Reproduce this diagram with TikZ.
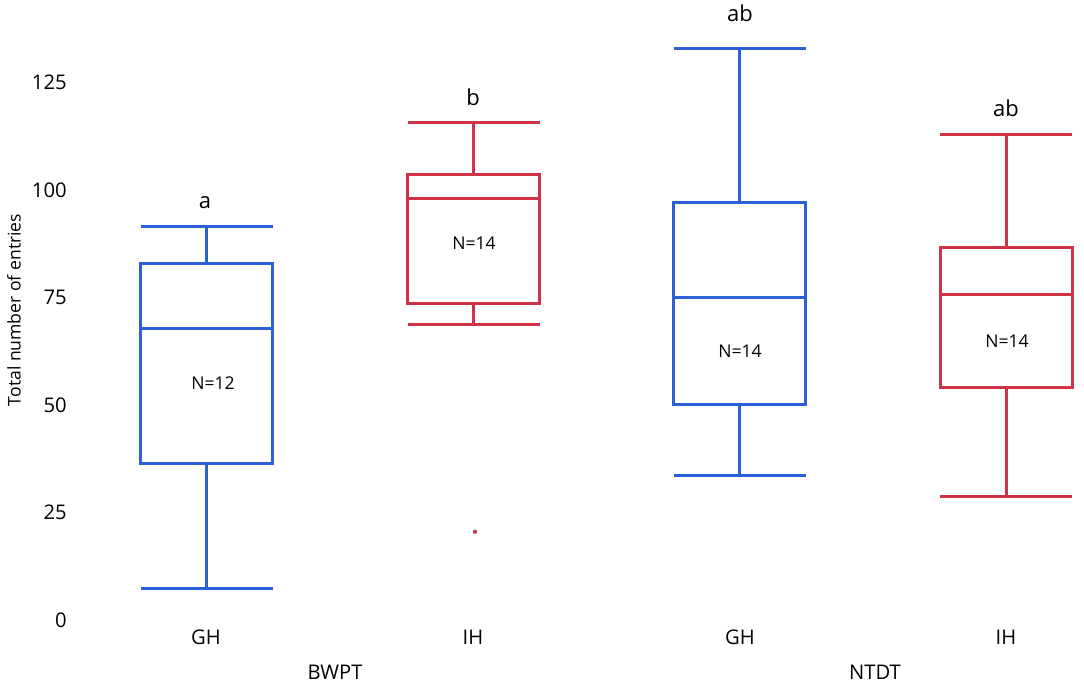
\documentclass[tikz,border=0pt]{standalone}
\usepackage{fontspec}
\setmainfont{Open Sans}
\definecolor{gblue}{RGB}{45,95,215}
\definecolor{ired}{RGB}{208,50,72}
\begin{document}
\begin{tikzpicture}[x=0.02cm, y=0.086cm,
        bx/.style={line width=1.7pt},
        ticklab/.style={font=\fontsize{11.5}{12}\selectfont, anchor=east, inner sep=0pt},
        grouplab/.style={font=\fontsize{11.5}{12}\selectfont, inner sep=0pt},
        letter/.style={font=\fontsize{12.5}{13}\selectfont, inner sep=0pt},
        nlab/.style={font=\fontsize{10}{11}\selectfont, inner sep=0pt}]
    \useasboundingbox (0, -15.12) rectangle (1084, 144.19);

    % y axis
    \foreach \v in {0, 25, 50, 75, 100, 125} {
        \node[ticklab] (tick\v) at (67, \v) {\v};
    }
    \node[rotate=90, font=\fontsize{10}{11}\selectfont, inner sep=0pt] (ylab) at (14, 72.1) {Total number of entries};

    % boxes: center, lower whisker, q1, median, q3, upper whisker, colour
    \foreach \c/\lo/\qa/\md/\qb/\hi/\col in {
            206.5/7.4/36.3/67.7/82.8/91.6/gblue,
            473.5/68.6/73.5/98.1/103.7/115.6/ired,
            739.5/33.5/50/75.1/97.2/133/gblue,
            1006/28.6/54/75.6/86.7/112.8/ired} {
        \draw[bx, \col] (\c - 66, \qa) rectangle (\c + 66, \qb);
        \draw[bx, \col] (\c - 66, \md) -- (\c + 66, \md);
        \draw[bx, \col] (\c, \qb) -- (\c, \hi);
        \draw[bx, \col] (\c, \qa) -- (\c, \lo);
        \draw[bx, \col] (\c - 66, \hi) -- (\c + 66, \hi);
        \draw[bx, \col] (\c - 66, \lo) -- (\c + 66, \lo);
    }

    % outlier
    \fill[ired] (475, 20.5) circle (1.2pt);

    % letters
    \node[letter] (sig1) at (205, 97) {a};
    \node[letter] (sig2) at (473, 121.6) {b};
    \node[letter] (sig3) at (740, 141) {ab};
    \node[letter] (sig4) at (1006, 119) {ab};

    % sample sizes
    \node[nlab] (n1) at (213, 55.1) {N=12};
    \node[nlab] (n2) at (474, 87.7) {N=14};
    \node[nlab] (n3) at (740, 62.6) {N=14};
    \node[nlab] (n4) at (1007, 64.9) {N=14};

    % x axis
    \node[grouplab] (gh1) at (206, -3.95) {GH};
    \node[grouplab] (ih1) at (473, -3.95) {IH};
    \node[grouplab] (gh2) at (740, -3.95) {GH};
    \node[grouplab] (ih2) at (1006, -3.95) {IH};
    \node[grouplab] (bwpt) at (335, -12.3) {BWPT};
    \node[grouplab] (ntdt) at (875, -12.3) {NTDT};
\end{tikzpicture}
\end{document}
